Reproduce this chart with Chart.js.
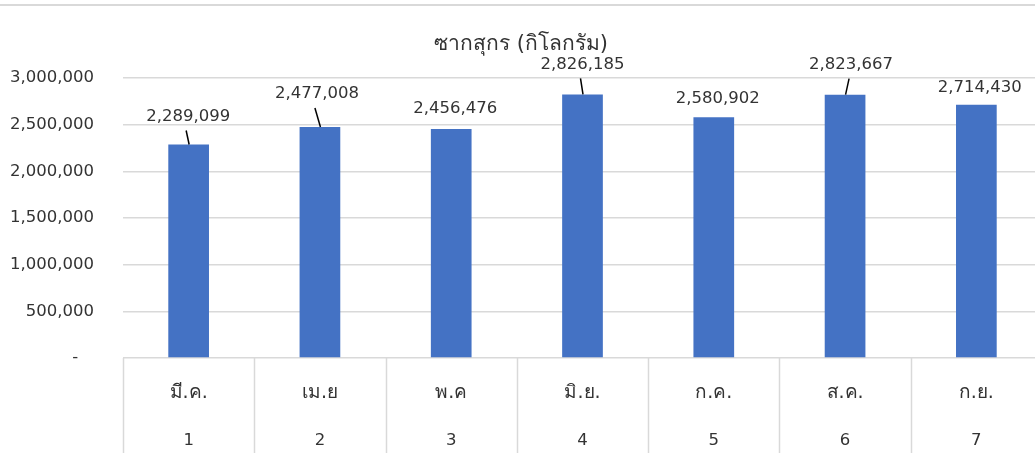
<!DOCTYPE html>
<html>
<head>
<meta charset="utf-8">
<script src="https://cdn.jsdelivr.net/npm/chart.js@4/dist/chart.umd.min.js"></script>
<style>
  html, body { margin: 0; padding: 0; background: #fff; overflow: hidden; }
  #wrap { position: absolute; left: 0; top: 0; width: 1045px; height: 454px; }
</style>
</head>
<body>
<div id="wrap"><canvas id="c" width="1045" height="454"></canvas></div>
<script>
// data
var months = ['มี.ค.', 'เม.ย', 'พ.ค', 'มิ.ย.', 'ก.ค.', 'ส.ค.', 'ก.ย.'];
var monthNums = ['1', '2', '3', '4', '5', '6', '7'];
var carcassKg = [2289099, 2477008, 2456476, 2826185, 2580902, 2823667, 2714430];
var chartTitle = 'ซากสุกร (กิโลกรัม)';

// label placement relative to bar top (px), and whether a leader line is drawn
var labelShift = [[-0.5, -28], [-3, -33], [4, -20], [0, -30], [4, -18.5], [6, -30], [3.5, -17]];
var labelLeader = [true, true, false, true, false, true, false];

var FONT = "Tahoma, 'DejaVu Sans', 'Noto Sans', sans-serif";
var TEXT = '#333333';
var GRID = '#d9d9d9';

function fmt(v) {
  return v.toLocaleString('en-US');
}

var framePlugin = {
  id: 'frame',
  beforeDraw: function(chart) {
    var ctx = chart.ctx;
    ctx.save();
    ctx.fillStyle = '#ffffff';
    ctx.fillRect(0, 0, chart.width, chart.height);
    ctx.fillStyle = GRID;
    ctx.fillRect(0, 4, chart.width, 2);
    ctx.restore();
  },
  afterDraw: function(chart) {
    var ctx = chart.ctx, area = chart.chartArea;
    var n = chart.data.labels.length;
    var w = (area.right - area.left) / n;
    ctx.save();
    // category separators under the plot
    ctx.strokeStyle = GRID;
    ctx.lineWidth = 1.5;
    for (var i = 0; i <= n; i++) {
      var px = Math.round(area.left + i * w) + 0.5;
      ctx.beginPath();
      ctx.moveTo(px, area.bottom);
      ctx.lineTo(px, chart.height);
      ctx.stroke();
    }
    // data labels
    var meta = chart.getDatasetMeta(0);
    ctx.font = '16.5px ' + FONT;
    ctx.fillStyle = TEXT;
    ctx.textAlign = 'center';
    ctx.textBaseline = 'middle';
    ctx.strokeStyle = '#000000';
    ctx.lineWidth = 1.5;
    meta.data.forEach(function(bar, i) {
      var lx = bar.x + labelShift[i][0];
      var ly = bar.y + labelShift[i][1];
      ctx.fillText(fmt(chart.data.datasets[0].data[i]), lx, ly);
      if (labelLeader[i]) {
        ctx.beginPath();
        ctx.moveTo(lx - 2, ly + 14);
        ctx.lineTo(bar.x + 0.5, bar.y);
        ctx.stroke();
      }
    });
    ctx.restore();
  }
};

new Chart(document.getElementById('c'), {
  type: 'bar',
  data: {
    labels: months,
    datasets: [{
      data: carcassKg,
      backgroundColor: '#4472c4',
      categoryPercentage: 1,
      barPercentage: 0.31
    }]
  },
  options: {
    responsive: false,
    animation: false,
    devicePixelRatio: 1,
    layout: { padding: { top: 0, right: 3, left: 0, bottom: 0 } },
    plugins: {
      legend: { display: false },
      tooltip: { enabled: false },
      title: {
        display: true,
        text: chartTitle,
        color: TEXT,
        font: { family: FONT, size: 21, weight: 'normal' },
        padding: { top: 32, bottom: 21 }
      }
    },
    scales: {
      x: {
        position: 'bottom',
        weight: 0,
        grid: { display: false, drawTicks: false },
        border: { display: false },
        ticks: {
          color: TEXT,
          font: { family: FONT, size: 19, lineHeight: 1 },
          padding: 26,
          maxRotation: 0,
          autoSkip: false
        },
        afterFit: function(s) { s.height = 47; }
      },
      xNum: {
        type: 'category',
        labels: monthNums,
        position: 'bottom',
        weight: 1,
        offset: true,
        grid: { display: false, drawTicks: false },
        border: { display: false },
        ticks: {
          color: TEXT,
          font: { family: FONT, size: 16.5, lineHeight: 1.2 },
          padding: 26,
          maxRotation: 0,
          autoSkip: false
        },
        afterFit: function(s) { s.height = 49; }
      },
      y: {
        min: 0,
        max: 3000000,
        grid: { color: GRID, lineWidth: 1.5, drawTicks: false },
        border: { display: false },
        ticks: {
          stepSize: 500000,
          color: TEXT,
          padding: 29,
          font: { family: FONT, size: 16.5 },
          callback: function(v) { return v === 0 ? '-   ' : fmt(v); }
        },
        afterFit: function(s) { s.width = 123; }
      }
    }
  },
  plugins: [framePlugin]
});
</script>
</body>
</html>
